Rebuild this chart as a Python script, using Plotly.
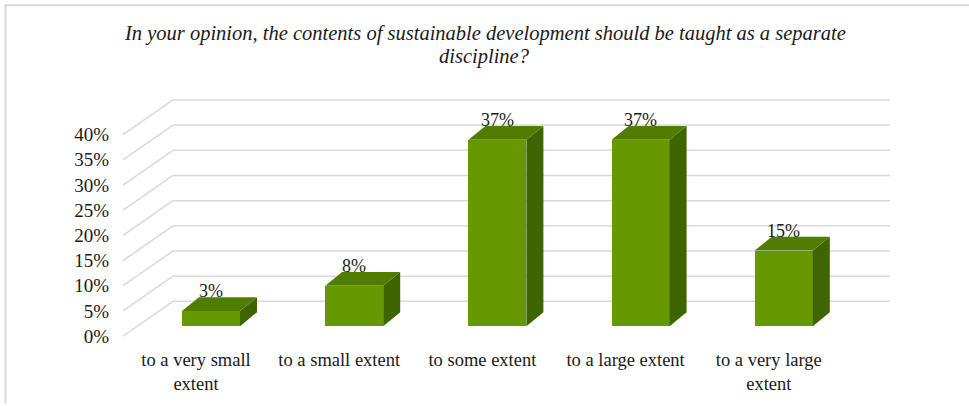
import plotly.graph_objects as go

# Survey answers and shares (%)
categories = ["to a very small<br>extent", "to a small extent", "to some extent",
              "to a large extent", "to a very large<br>extent"]
shares = [3, 8, 37, 37, 15]
tick_values = [0, 5, 10, 15, 20, 25, 30, 35, 40]
tick_labels = [f"{v}%" for v in tick_values]

title_lines = [
    "In your opinion, the contents of sustainable development should be taught as a separate",
    "discipline?",
]

# ---- pixel layout of the pseudo-3D frame ----
W, H = 969, 406
PLOT_L, PLOT_R, PLOT_T, PLOT_B = 113, 927, 90, 348
CAT_PX = 143.2          # distance between category centres
X0_PX = 211             # centre of the first column
Y0_PX = 338             # 0 % on the front edge of the floor
PCT_PX = 5.075          # pixels per percentage point

def to_x(px):
    return (px - X0_PX) / CAT_PX

def to_y(py):
    return (Y0_PX - py) / PCT_PX

def dx(px):
    return px / CAT_PX

def dy(py):
    return py / PCT_PX

def paper_x(px):
    return (px - PLOT_L) / (PLOT_R - PLOT_L)

def paper_y(py):
    return (PLOT_B - py) / (PLOT_B - PLOT_T)

FRONT_GREEN = "#669900"
TOP_GREEN = "#4f7d00"
SIDE_GREEN = "#3f6500"
GRID = "#d9d9d9"
FONT = "Liberation Serif"
TEXT = "#1a1a1a"

fig = go.Figure()
shapes = []

# back wall gridlines and the slanted lines leading to them (behind the columns)
wall_dx, wall_dy = dx(50), dy(35)
front_left = to_x(123)
back_right = to_x(890)
for v in tick_values:
    shapes.append(dict(type="line", xref="x", yref="y", layer="below",
                       x0=front_left, y0=v, x1=front_left + wall_dx, y1=v + wall_dy,
                       line=dict(color=GRID, width=1.5)))
    shapes.append(dict(type="line", xref="x", yref="y", layer="below",
                       x0=front_left + wall_dx, y0=v + wall_dy, x1=back_right, y1=v + wall_dy,
                       line=dict(color=GRID, width=1.5)))

# columns: front faces as bars, sides and tops as filled polygons
idx = list(range(len(categories)))
bar_w = dx(58)
floor = dy(10)
dep_x, dep_y = dx(17), dy(14)

fig.add_trace(go.Bar(x=idx, y=shares, base=[floor] * len(shares), width=bar_w,
                     marker=dict(color=FRONT_GREEN, line=dict(width=0)),
                     hoverinfo="skip", showlegend=False))

for i, v in zip(idx, shares):
    xl, xr = i - bar_w / 2, i + bar_w / 2
    top = floor + v
    # right side
    fig.add_trace(go.Scatter(
        x=[xr, xr + dep_x, xr + dep_x, xr, xr],
        y=[floor, floor + dep_y, top + dep_y, top, floor],
        mode="lines", fill="toself", fillcolor=SIDE_GREEN,
        line=dict(width=0, color=SIDE_GREEN), hoverinfo="skip", showlegend=False))
    # top
    fig.add_trace(go.Scatter(
        x=[xl, xr, xr + dep_x, xl + dep_x, xl],
        y=[top, top, top + dep_y, top + dep_y, top],
        mode="lines", fill="toself", fillcolor=TOP_GREEN,
        line=dict(width=0, color=TOP_GREEN), hoverinfo="skip", showlegend=False))

# value labels above each column
annotations = []
for i, v in zip(idx, shares):
    annotations.append(dict(
        x=i, y=floor + v + dep_y, xref="x", yref="y", text=f"{v}%",
        showarrow=False, yanchor="bottom", yshift=-6,
        font=dict(family=FONT, size=18, color=TEXT)))

# two-line italic title
for line, py in zip(title_lines, [33, 56]):
    annotations.append(dict(
        x=paper_x(W / 2), y=paper_y(py), xref="paper", yref="paper",
        text=f"<i>{line}</i>", showarrow=False, xanchor="center", yanchor="middle",
        font=dict(family=FONT, size=20.5, color=TEXT)))

# thin frame on the top and left of the picture
shapes += [
    dict(type="line", xref="paper", yref="paper", x0=paper_x(4.5), x1=paper_x(W),
         y0=paper_y(4.5), y1=paper_y(4.5), line=dict(color=GRID, width=2)),
    dict(type="line", xref="paper", yref="paper", x0=paper_x(5.5), x1=paper_x(5.5),
         y0=paper_y(4.5), y1=paper_y(H), line=dict(color=GRID, width=2)),
]

label_shift = dx(15)
fig.update_layout(
    width=W, height=H,
    margin=dict(l=PLOT_L, r=W - PLOT_R, t=PLOT_T, b=H - PLOT_B, pad=0),
    paper_bgcolor="white", plot_bgcolor="white",
    xaxis=dict(range=[to_x(PLOT_L), to_x(PLOT_R)], showgrid=False, zeroline=False,
               showline=False, ticks="", tickmode="array",
               tickvals=[i - label_shift for i in idx], ticktext=categories,
               tickfont=dict(family=FONT, size=18.5, color=TEXT), fixedrange=True),
    yaxis=dict(range=[to_y(PLOT_B), to_y(PLOT_T)], showgrid=False, zeroline=False,
               showline=False, ticks="", tickmode="array",
               tickvals=tick_values, ticktext=tick_labels, ticklabelstandoff=3,
               tickfont=dict(family=FONT, size=19, color=TEXT), fixedrange=True),
    annotations=annotations,
    shapes=shapes,
    bargap=0,
)

fig.write_html("out.html")
